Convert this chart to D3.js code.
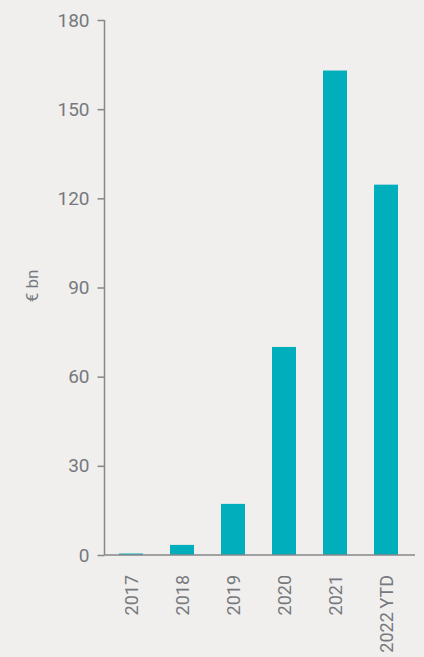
<!DOCTYPE html>
<html>
<head>
<meta charset="utf-8">
<script src="https://cdn.jsdelivr.net/npm/d3@7"></script>
<style>
  html, body { margin: 0; padding: 0; background: #f0efed; }
  svg { display: block; }
  .axis text { font-family: Roboto, sans-serif; font-size: 19px; fill: #76797d; }
  .axis path, .axis line { stroke: #858789; stroke-width: 1.5; }
  .xlabels text { font-family: Roboto, sans-serif; font-size: 18px; fill: #76797d; }
</style>
</head>
<body>
<div id="chart"></div>
<script>
// values, in € bn
var categories = ["2017", "2018", "2019", "2020", "2021", "2022\u2009YTD"];
var values = [0.5, 3.4, 17.2, 70, 163, 124.6];
var yTicks = [0, 30, 60, 90, 120, 150, 180];

var width = 424, height = 657;
var mLeft = 104.5, mRight = 415, mTop = 20, mBottom = 555;

var svg = d3.select("#chart").append("svg")
  .attr("width", width)
  .attr("height", height);

var x = d3.scaleBand()
  .domain(categories)
  .range([105.5, 411.5])
  .paddingInner(0.53)
  .paddingOuter(0.265);

var y = d3.scaleLinear()
  .domain([0, 180])
  .range([mBottom, mTop]);

// bars
svg.selectAll("rect.bar")
  .data(values)
  .enter().append("rect")
  .attr("class", "bar")
  .attr("x", function(d, i) { return x(categories[i]); })
  .attr("width", x.bandwidth())
  .attr("y", function(d) { return y(d); })
  .attr("height", function(d) { return y(0) - y(d); })
  .attr("fill", "#00aebc");

// y axis
var yAxis = svg.append("g")
  .attr("class", "axis")
  .attr("transform", "translate(" + mLeft + ",0)")
  .call(d3.axisLeft(y).tickValues(yTicks).tickSize(7).tickPadding(8).tickSizeOuter(0));
yAxis.select(".domain").attr("d", "M0," + mTop + "V" + mBottom);

// x axis line
svg.append("line")
  .attr("x1", mLeft).attr("x2", mRight)
  .attr("y1", mBottom).attr("y2", mBottom)
  .attr("stroke", "#858789")
  .attr("stroke-width", 1.5);

// x labels, rotated
svg.append("g").attr("class", "xlabels")
  .selectAll("text")
  .data(categories)
  .enter().append("text")
  .attr("transform", function(d) {
    return "translate(" + (x(d) + x.bandwidth() / 2 + 6.5) + ",575) rotate(-90)";
  })
  .attr("text-anchor", "end")
  .text(function(d) { return d; });

// y title
svg.append("text")
  .attr("transform", "translate(38,286) rotate(-90)")
  .attr("text-anchor", "middle")
  .style("font-family", "Roboto, sans-serif")
  .style("font-size", "17px")
  .style("fill", "#76797d")
  .text("€ bn");
</script>
</body>
</html>
